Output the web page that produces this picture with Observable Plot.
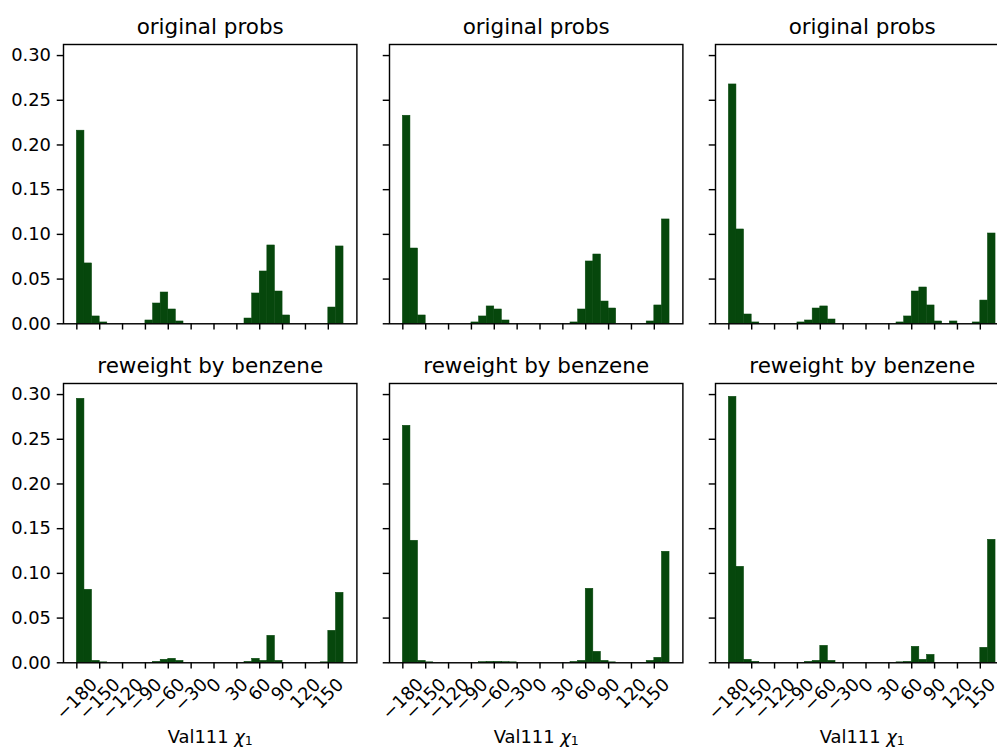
<!DOCTYPE html>
<html><head><meta charset="utf-8">
<script src="https://cdn.jsdelivr.net/npm/d3@7"></script>
<script src="https://cdn.jsdelivr.net/npm/@observablehq/plot@0.6"></script>
<style>
body{margin:0;background:#fff;}
#fig{position:relative;width:997px;height:747px;overflow:hidden;background:#fff;}
.panel{position:absolute;}
</style></head><body><div id="fig"></div><script>
// ---- data (probability per 10° bin, bins start at -180 ... 160) ----
const binStart = d3.range(-180, 170, 10);
const xTicks = [-180, -150, -120, -90, -60, -30, 0, 30, 60, 90, 120, 150];
const xTickLabels = ["−180", "−150", "−120", "−90", "−60", "−30", "0", "30", "60", "90", "120", "150"];
const yTicks = [0, 0.05, 0.10, 0.15, 0.20, 0.25, 0.30];
const yTickLabels = ["0.00", "0.05", "0.10", "0.15", "0.20", "0.25", "0.30"];
const rowTitles = ["original probs", "reweight by benzene"];
const xLabelName = "Val111";
const xLabelSymbol = "χ";
const xLabelSub = "1";

const orig1 = [0.216,0.0675,0.0082,0.0015, 0,0,0,0,0, 0.0037,0.0227,0.035,0.016,0.0026, 0,0,0,0,0,0,0,0, 0.0059,0.0339,0.0585,0.0876,0.0361,0.0093, 0,0,0,0,0, 0.0182,0.0865];
const orig2 = [0.2327,0.0842,0.0093, 0,0,0,0,0,0, 0.0015,0.0082,0.0194,0.016,0.0037, 0,0,0,0,0,0,0,0, 0.0015,0.016,0.0697,0.0775,0.0249,0.0171, 0,0,0,0, 0.0026,0.0205,0.1167];
const orig3 = [0.2677,0.1055,0.0104,0.0015, 0,0,0,0,0, 0.0015,0.0037,0.0171,0.0194,0.0048, 0,0,0,0,0,0,0,0, 0.0015,0.0082,0.0361,0.0406,0.0205,0.0026, 0,0.0026,0,0, 0.0015,0.026,0.101];
const rew1 = [0.2953,0.0817,0.0022,0.0005, 0,0,0,0,0,0, 0.0011,0.0034,0.0045,0.0022, 0,0,0,0,0,0,0,0, 0.0011,0.0045,0.0022,0.0302,0.0022, 0,0,0,0,0, 0.0005,0.0358,0.0783];
const rew2 = [0.2651,0.1365,0.0022,0.0005, 0,0,0,0,0,0, 0.0008,0.0011,0.0011,0.0008,0.0005, 0,0,0,0,0,0,0, 0.001,0.0022,0.0828,0.0123,0.0022,0.0005, 0,0,0,0, 0.0022,0.0056,0.1242];
const rew3 = [0.2975,0.1074,0.0034,0.0011, 0,0,0,0,0,0, 0.0011,0.0022,0.019,0.0022, 0,0,0,0,0,0,0,0, 0.0005,0.0011,0.0179,0.0034,0.0089, 0,0,0,0,0,0, 0.0168,0.1376];

const series = [[orig1, orig2, orig3], [rew1, rew2, rew3]];

// ---- layout ----
const FS = 17.9, TFS = 21.5, PT = 1.79;
const W = 293.4, H = 279.3;
const mL = 70, mR = 10, mT = 50, mB = 95;
const colLeft = [63.3, 388.9, 714.5];
const rowTop = [44, 382.7];
const BIN = 10;
const BAR = "#06470c";
const xMin = binStart[0], xMax = binStart[binStart.length - 1] + BIN;
const xPad = (xMax - xMin) * 0.05;
const yMax = d3.max(series.flat(2)) * 1.05;

const ctx = document.createElement("canvas").getContext("2d");
ctx.font = `${FS}px "DejaVu Sans"`;

const fig = document.getElementById("fig");

function panel(values, row, col) {
  const data = binStart.map((x0, i) => ({x0, x1: x0 + BIN, p: values[i]}));
  const bottom = row === 1;
  const marks = [
    Plot.rectY(data.filter(d => d.p > 0), {x1: "x0", x2: "x1", y: "p", fill: BAR, stroke: BAR, strokeWidth: 0.5}),
    Plot.frame({stroke: "black", strokeWidth: 0.8 * PT}),
    Plot.text([rowTitles[row]], {text: d => d, frameAnchor: "top", lineAnchor: "bottom", dy: -6 * PT, fontSize: TFS})
  ];
  if (bottom) {
    xTicks.forEach((t, i) => {
      const w = ctx.measureText(xTickLabels[i]).width;
      const dy = 3.5 * PT + 3.5 * PT + (w + FS) / (2 * Math.SQRT2);
      marks.push(Plot.text([t], {x: d => d, text: d => xTickLabels[xTicks.indexOf(d)], frameAnchor: "bottom", dy, rotate: -45, fontSize: FS, textAnchor: "middle", lineAnchor: "middle"}));
    });
    marks.push(Plot.text([`${xLabelName} ${xLabelSymbol}${xLabelSub}`], {text: d => d, frameAnchor: "bottom", lineAnchor: "bottom", dy: 80, fontSize: FS}));
  }
  const svg = Plot.plot({
    width: mL + W + mR, height: mT + H + mB,
    marginLeft: mL, marginRight: mR, marginTop: mT, marginBottom: mB,
    style: {fontFamily: "DejaVu Sans", fontSize: FS + "px", color: "black", background: "transparent", maxWidth: "none", overflow: "visible"},
    x: {domain: [xMin - xPad, xMax + xPad], ticks: xTicks, tickFormat: () => "", tickSize: 3.5 * PT, label: null},
    y: {domain: [0, yMax], ticks: yTicks, tickFormat: d => col === 0 ? yTickLabels[yTicks.indexOf(d)] : "", tickSize: 3.5 * PT, tickPadding: 3.5 * PT, label: null},
    marks
  });
  const s = d3.select(svg);
  s.selectAll('g[aria-label$="tick"]').attr("stroke-width", 0.8 * PT);
  s.selectAll("text").each(function() {
    if (this.textContent === `${xLabelName} ${xLabelSymbol}${xLabelSub}`) {
      const t = d3.select(this);
      t.text("");
      t.append("tspan").text(xLabelName + " ");
      t.append("tspan").attr("font-style", "italic").text(xLabelSymbol);
      t.append("tspan").attr("font-size", "70%").attr("dy", "0.2em").text(xLabelSub);
    }
  });
  const div = document.createElement("div");
  div.className = "panel";
  div.style.left = (colLeft[col] - mL) + "px";
  div.style.top = (rowTop[row] - mT) + "px";
  div.appendChild(svg);
  fig.appendChild(div);
}

series.forEach((r, ri) => r.forEach((v, ci) => panel(v, ri, ci)));
</script></body></html>
